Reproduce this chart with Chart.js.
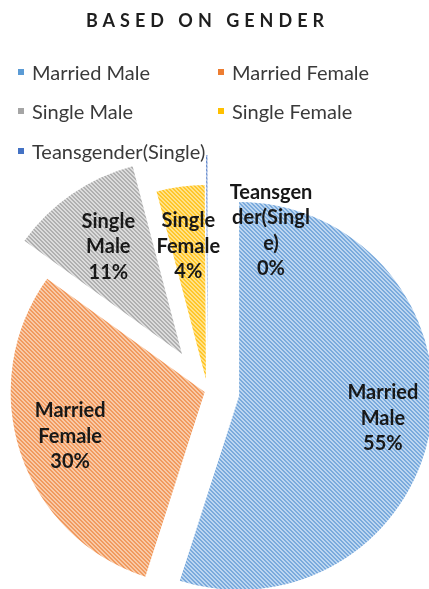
<!DOCTYPE html>
<html>
<head>
<meta charset="utf-8">
<script src="https://cdn.jsdelivr.net/npm/chart.js@4.4.0/dist/chart.umd.min.js"></script>
<style>
  html, body { margin: 0; padding: 0; background: #fff; }
  #wrap { position: relative; width: 429px; height: 589px; overflow: hidden; font-family: Lato, "Open Sans", sans-serif; }
  #chart { position: absolute; left: 0; top: 0; }
  .title { position: absolute; left: -7px; top: 9px; width: 429px; text-align: center; font-weight: 700; font-size: 18px; line-height: 22px; letter-spacing: 5px; color: #1e1e1e; }
  .legend { position: absolute; left: 18px; top: 52px; display: grid; grid-template-columns: 200px 200px; grid-auto-rows: 39.5px; }
  .legend div { display: flex; align-items: center; gap: 8px; font-size: 20px; color: #3a3a3a; white-space: nowrap; }
  .legend i { display: block; width: 6px; height: 6px; }
</style>
</head>
<body>
<div id="wrap">
  <canvas id="chart" width="429" height="589"></canvas>
  <div class="title">BASED ON GENDER</div>
  <div class="legend" id="legend"></div>
</div>
<script>
// data
const categories = ['Married Male', 'Married Female', 'Single Male', 'Single Female', 'Teansgender(Single)'];
const shares = [55, 30, 11, 4, 0.1];
// how the slice labels wrap inside the slices
const labelLines = [['Married', 'Male'], ['Married', 'Female'], ['Single', 'Male'], ['Single', 'Female'], ['Teansgen', 'der(Singl', 'e)']];

// styling
const stripeDark = ['#7aaadc', '#f19a5f', '#b0b0b0', '#ffc62a', '#4472c4'];
const stripeLight = ['#bdd6f0', '#f8caa8', '#dcdcdc', '#ffe28a', '#8faadc'];
const swatch = ['#5b9bd5', '#ed7d31', '#a5a5a5', '#ffc000', '#4472c4'];
const explode = [32, 3, 45, 12, 42];
const labelReach = [0.75, 0.73, 0.67, 0.69, 0.6];
const labelShift = [[0, 0], [0, 0], [0, 0], [0, 0], [64, -2]];

const canvas = document.getElementById('chart');
const ctx2d = canvas.getContext('2d');

function stripes(dark, light) {
  const c = document.createElement('canvas');
  c.width = 4; c.height = 4;
  const g = c.getContext('2d');
  g.fillStyle = light;
  g.fillRect(0, 0, 4, 4);
  g.fillStyle = dark;
  for (let y = 0; y < 4; y++) {
    for (let x = 0; x < 4; x++) {
      if ((((x - y) % 4) + 4) % 4 < 2) g.fillRect(x, y, 1, 1);
    }
  }
  return ctx2d.createPattern(c, 'repeat');
}

const fills = stripeDark.map((d, i) => stripes(d, stripeLight[i]));

// legend (html)
const legend = document.getElementById('legend');
categories.forEach((name, i) => {
  const item = document.createElement('div');
  item.innerHTML = '<i style="background:' + swatch[i] + '"></i><span>' + name + '</span>';
  legend.appendChild(item);
});

// pull each slice out along its middle angle, same radius for all
const explodePlugin = {
  id: 'explode',
  afterDatasetsUpdate(chart) {
    const meta = chart.getDatasetMeta(0);
    meta.data.forEach((arc, i) => {
      const mid = (arc.startAngle + arc.endAngle) / 2;
      arc.x += Math.cos(mid) * explode[i];
      arc.y += Math.sin(mid) * explode[i];
    });
  }
};

const sliceLabels = {
  id: 'sliceLabels',
  afterDatasetsDraw(chart) {
    const ctx = chart.ctx;
    const meta = chart.getDatasetMeta(0);
    const total = shares.reduce((a, b) => a + b, 0);
    ctx.save();
    ctx.font = 'bold 20px Lato';
    ctx.fillStyle = '#181818';
    ctx.textAlign = 'center';
    ctx.textBaseline = 'middle';
    meta.data.forEach((arc, i) => {
      const p = arc.getProps(['x', 'y', 'startAngle', 'endAngle', 'outerRadius'], true);
      const mid = (p.startAngle + p.endAngle) / 2;
      const r = p.outerRadius * labelReach[i];
      const cx = p.x + Math.cos(mid) * r + labelShift[i][0];
      const cy = p.y + Math.sin(mid) * r + labelShift[i][1];
      const lines = labelLines[i].concat(Math.round(shares[i] / total * 100) + '%');
      const lh = 25.5;
      lines.forEach((t, k) => {
        ctx.fillText(t, cx, cy + (k - (lines.length - 1) / 2) * lh);
      });
    });
    ctx.restore();
  }
};

const chart = new Chart(canvas, {
  type: 'pie',
  data: {
    labels: categories,
    datasets: [{
      data: shares,
      backgroundColor: fills,
      borderWidth: 0,
      clip: false,
    }]
  },
  options: {
    responsive: false,
    animation: false,
    radius: 194,
    layout: { padding: { top: 193, right: 14, bottom: 0, left: 0 } },
    plugins: {
      legend: { display: false },
      title: { display: false },
      tooltip: { enabled: false },
    },
  },
  plugins: [explodePlugin, sliceLabels]
});
</script>
</body>
</html>
